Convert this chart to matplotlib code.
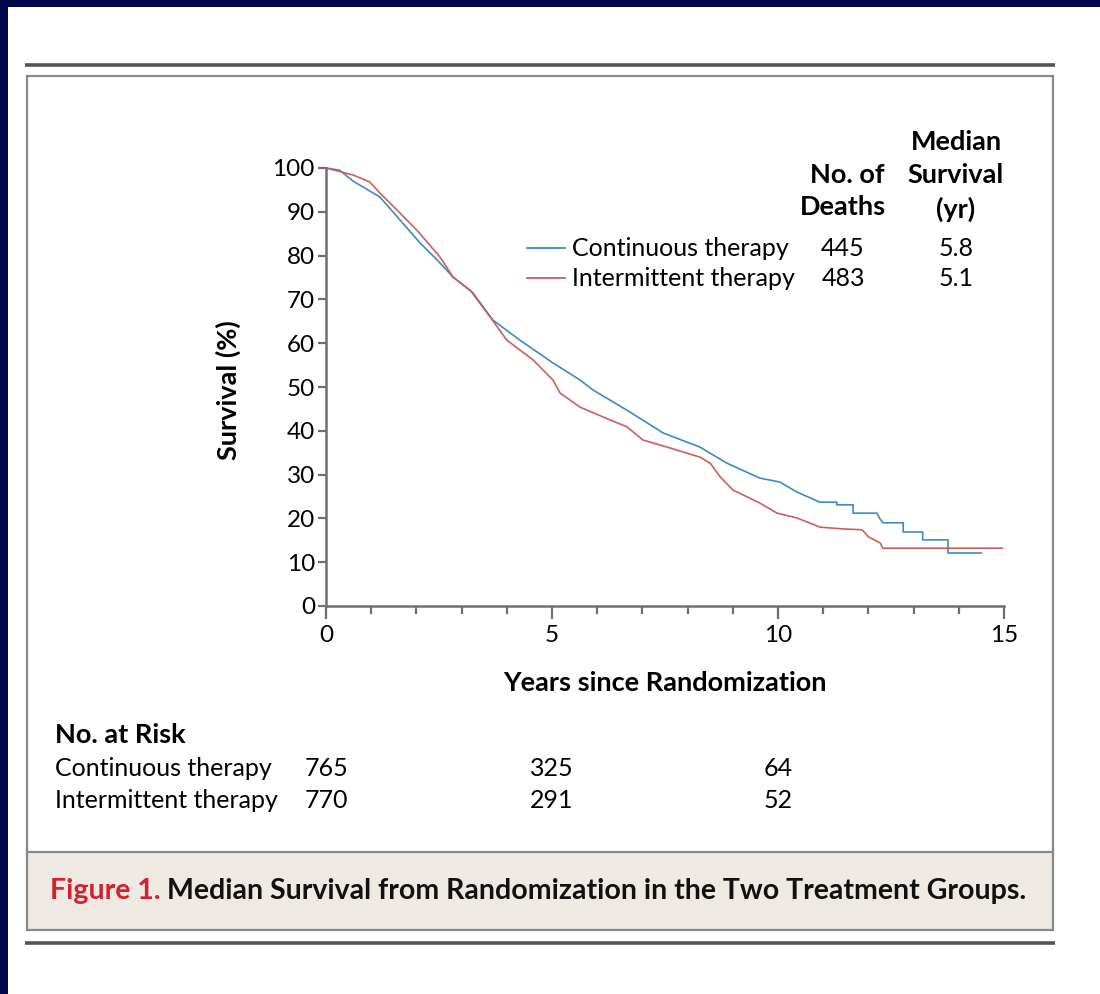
import matplotlib.pyplot as plt
import matplotlib.transforms as mtransforms
from matplotlib.patches import Rectangle
from matplotlib.ticker import MultipleLocator

plt.rcParams['font.family'] = ['Lato', 'DejaVu Sans']

# Kaplan-Meier curves (years, survival %)
cont_t = [0, 0.3, 0.6, 1.19, 1.64, 2.08, 2.46, 2.81, 3.25, 3.69, 4.29, 5.02, 5.62, 5.91,
          6.66, 7.46, 8.27, 8.87, 9.6, 10.04, 10.42, 10.93, 11.3, 11.3, 11.66, 11.66,
          12.19, 12.25, 12.32, 12.77, 12.77, 13.2, 13.2, 13.76, 13.76, 14.5]
cont_s = [100, 99.5, 97, 93.4, 88.1, 82.9, 79, 75.1, 71.5, 65.3, 60.7, 55.5, 51.6, 49.3,
          44.7, 39.5, 36.3, 32.6, 29.2, 28.3, 26.0, 23.7, 23.7, 23.1, 23.1, 21.2,
          21.2, 20.0, 19.0, 19.0, 16.9, 16.9, 15.1, 15.1, 12.1, 12.1]

inter_t = [0, 0.6, 0.97, 1.19, 1.57, 2.01, 2.52, 2.81, 3.19, 3.63, 4.0, 4.58, 5.02, 5.18,
           5.62, 6.28, 6.66, 7.01, 7.54, 8.27, 8.5, 8.72, 9.0, 9.6, 9.98, 10.42, 10.93,
           11.44, 11.86, 12.0, 12.26, 12.32, 14.96]
inter_s = [100, 98.4, 96.8, 94.3, 90.4, 85.8, 79.7, 75.1, 72.1, 66.0, 60.7, 56.2, 51.6, 48.6,
           45.4, 42.5, 40.9, 37.9, 36.3, 34.0, 32.6, 29.5, 26.5, 23.5, 21.2, 20.1, 18.0,
           17.6, 17.4, 15.8, 14.4, 13.2, 13.2]

groups = ['Continuous therapy', 'Intermittent therapy']
deaths = ['445', '483']
medians = ['5.8', '5.1']
risk_times = [0, 5, 10]
risk_cont = ['765', '325', '64']
risk_inter = ['770', '291', '52']

blue = '#3a8bc8'
red = '#cf5f5a'
grey = '#6e6e6e'

W, H = 1100, 994
fig = plt.figure(figsize=(W / 100, H / 100), dpi=100, facecolor='#02074d')

# overlay in pixel coordinates for frame and text
bg = fig.add_axes([0, 0, 1, 1])
bg.set_xlim(0, W)
bg.set_ylim(H, 0)
bg.axis('off')
bg.add_patch(Rectangle((8, 7), W, H, facecolor='white', edgecolor='none'))
bg.plot([25, 1055], [65, 65], color='#555555', lw=2.6, solid_capstyle='butt')
bg.plot([25, 1055], [943, 943], color='#555555', lw=2.6, solid_capstyle='butt')
bg.add_patch(Rectangle((27, 852), 1026, 78, facecolor='#efe9e3', edgecolor='none'))
bg.add_patch(Rectangle((27, 76), 1026, 854, facecolor='none', edgecolor='#888888', lw=1.6))
bg.plot([27, 1053], [852, 852], color='#888888', lw=1.6)

# main axes
ax = fig.add_axes([326 / W, 1 - 606 / H, 678 / W, 438 / H])
ax.set_facecolor('none')
ax.plot(cont_t, cont_s, color=blue, lw=1.2, clip_on=False)
ax.plot(inter_t, inter_s, color=red, lw=1.2, clip_on=False)
ax.set_xlim(0, 15)
ax.set_ylim(0, 100)
for side in ['top', 'right']:
    ax.spines[side].set_visible(False)
for side in ['left', 'bottom']:
    ax.spines[side].set_color(grey)
    ax.spines[side].set_linewidth(1.8)
ax.xaxis.set_major_locator(MultipleLocator(5))
ax.xaxis.set_minor_locator(MultipleLocator(1))
ax.yaxis.set_major_locator(MultipleLocator(10))
ax.tick_params(axis='x', which='major', length=9, width=1.6, color=grey, labelsize=17.5, pad=5)
ax.tick_params(axis='x', which='minor', length=6, width=1.6, color=grey)
ax.tick_params(axis='y', which='major', length=6, width=1.6, color=grey, labelsize=17.5, pad=2)

fs = 18
fb = 19.5
bg.text(228, 390, 'Survival (%)', rotation=90, ha='center', va='center',
        fontsize=fb, fontweight='bold')
bg.text(665, 683, 'Years since Randomization', ha='center', va='center',
        fontsize=fb, fontweight='bold')

# legend table
bg.text(956, 142, 'Median', ha='center', va='center', fontsize=fb, fontweight='bold')
bg.text(884, 175, 'No. of', ha='right', va='center', fontsize=fb, fontweight='bold')
bg.text(956, 175, 'Survival', ha='center', va='center', fontsize=fb, fontweight='bold')
bg.text(886, 207, 'Deaths', ha='right', va='center', fontsize=fb, fontweight='bold')
bg.text(956, 209, '(yr)', ha='center', va='center', fontsize=fb, fontweight='bold')
for i, (g, d, m, c) in enumerate(zip(groups, deaths, medians, [blue, red])):
    y = 248 + 30 * i
    bg.plot([527, 565], [y, y], color=c, lw=1.3)
    bg.text(572, y, g, ha='left', va='center', fontsize=fs)
    bg.text(843, y, d, ha='center', va='center', fontsize=fs)
    bg.text(956, y, m, ha='center', va='center', fontsize=fs)

# numbers at risk
bg.text(55, 735, 'No. at Risk', ha='left', va='center', fontsize=fb, fontweight='bold')
bg.text(55, 768, groups[0], ha='left', va='center', fontsize=fs)
bg.text(55, 800, groups[1], ha='left', va='center', fontsize=fs)
trans = mtransforms.blended_transform_factory(ax.transData, bg.transData)
for t, a, b in zip(risk_times, risk_cont, risk_inter):
    ax.text(t, 768, a, transform=trans, ha='center', va='center', fontsize=fs, clip_on=False)
    ax.text(t, 800, b, transform=trans, ha='center', va='center', fontsize=fs, clip_on=False)

# caption
renderer = fig.canvas.get_renderer()
t1 = bg.text(50, 891, 'Figure 1.', ha='left', va='center', fontsize=20.5,
             fontweight='bold', color='#d4202f')
bb = t1.get_window_extent(renderer)
x_next = bb.x1 + 6
bg.text(x_next, 891, 'Median Survival from Randomization in the Two Treatment Groups.',
        ha='left', va='center', fontsize=20.5, fontweight='bold', color='#111111')

fig.savefig('out.png', dpi=100, facecolor=fig.get_facecolor())
